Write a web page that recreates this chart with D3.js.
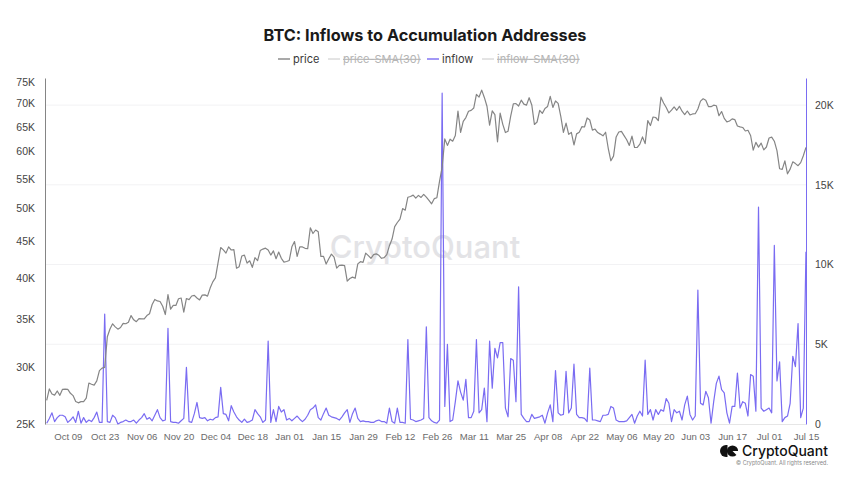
<!DOCTYPE html>
<html>
<head>
<meta charset="utf-8">
<script src="https://cdn.jsdelivr.net/npm/d3@7"></script>
<style>
  body { margin: 0; background: #fff; }
  svg { font-family: Inter, "Noto Sans", sans-serif; }
</style>
</head>
<body>
<div id="chart"></div>
<script>
// daily series, first value is 2023-10-01
var startDate = "2023-10-01";

// BTC price (thousand USD)
var price = [
  26.97,
  27.98, 27.53, 27.43, 27.80, 27.41, 27.95, 27.97, 27.94, 27.59, 27.39, 26.87, 26.76, 26.86, 26.86, 27.16, 28.52,
  28.41, 28.33, 28.72, 29.68, 29.92, 29.99, 33.09, 33.92, 34.50, 34.16, 33.91, 34.09, 34.54, 34.50, 34.67,
  35.42, 34.94, 34.73, 35.08, 35.05, 35.04, 35.42, 35.63, 36.70, 37.31, 37.13, 37.06, 36.50, 35.54, 37.88,
  36.16, 36.59, 36.59, 37.39, 37.48, 35.81, 37.42, 37.29, 37.72, 37.80, 37.48, 37.25, 37.83, 37.86, 37.71,
  38.69, 39.47, 39.98, 41.98, 44.08, 43.75, 43.29, 44.17, 43.73, 43.79, 41.24, 41.45, 42.89, 43.02, 41.93, 42.24,
  41.36, 42.66, 42.26, 43.65, 43.86, 43.99, 43.74, 43.02, 43.61, 42.52, 43.44, 42.58, 42.07, 42.14, 42.28,
  44.18, 44.94, 42.85, 44.18, 44.16, 43.97, 43.93, 46.97, 46.11, 46.63, 46.37, 42.85, 42.84, 41.80, 42.51, 43.15,
  42.74, 41.26, 41.62, 41.66, 41.58, 39.57, 39.90, 40.08, 39.93, 41.82, 42.12, 42.03, 43.30, 42.94, 42.58,
  43.08, 43.19, 42.99, 42.58, 42.66, 43.09, 44.34, 45.29, 47.13, 47.77, 48.29, 49.96, 49.70, 51.81, 51.94,
  52.16, 51.66, 52.12, 51.78, 52.28, 51.84, 51.30, 50.73, 51.57, 51.73, 54.52, 57.09, 62.50, 61.20,
  62.44, 62.03, 63.17, 68.33, 63.80, 66.11, 66.93, 68.30, 68.50, 69.02, 72.12, 71.48, 73.10, 71.40, 69.40, 65.30,
  68.39, 67.55, 61.91, 67.91, 65.49, 63.78, 64.06, 67.23, 69.96, 69.99, 69.45, 70.78, 69.89, 69.65, 71.33,
  69.70, 65.45, 65.98, 68.51, 67.84, 68.90, 69.36, 71.63, 69.14, 70.59, 70.06, 67.20, 63.82, 65.74, 63.42,
  63.81, 61.28, 63.51, 63.84, 64.99, 64.93, 66.84, 66.41, 64.29, 64.50, 63.77, 63.46, 63.12, 63.84, 60.64,
  58.25, 59.12, 62.89, 63.89, 64.03, 63.16, 62.33, 61.19, 63.05, 60.79, 60.79, 61.45, 62.90, 61.55, 66.27, 65.23,
  67.05, 66.94, 66.28, 71.45, 70.14, 69.12, 67.93, 68.53, 69.26, 68.51, 69.39, 68.30, 67.57, 68.35, 67.49,
  67.71, 67.75, 68.80, 70.56, 71.08, 70.76, 69.34, 69.31, 69.65, 69.51, 67.32, 68.24, 66.75, 66.01, 66.19,
  66.64, 66.49, 65.14, 64.96, 64.83, 64.10, 64.25, 63.18, 60.27, 61.80, 60.86, 61.65, 60.32, 60.89, 62.68,
  62.85, 62.03, 60.17, 56.78, 56.66, 58.23, 55.86, 56.71, 58.05, 57.72, 57.34, 57.90, 59.20, 60.80
];

// inflow to accumulation addresses (thousand BTC)
var inflow = [
  0.05, 0.35, 0.7, 0.15, 0.4, 0.55, 0.55, 0.45, 0.1, 0.25,
  0.45, 0.1, 0.8, 0.05, 0.4, 0.1, 0.25, 0.15, 0.4, 0.75,
  0.1, 0.1, 6.9, 0.15, 0.1, 0.55, 0.4, 0.0, 0.1, 0.15,
  0.25, 0.15, 0.15, 0.25, 0.05, 0.25, 0.4, 0.65, 0.3, 0.4,
  0.2, 0.55, 0.9, 0.4, 0.2, 0.25, 6.0, 0.15, 0.1, 0.1,
  0.05, 0.2, 0.35, 3.55, 0.15, 0.1, 0.65, 1.35, 0.4, 0.35,
  0.4, 0.2, 0.3, 0.25, 0.4, 0.45, 2.3, 0.65, 0.6, 0.2,
  1.15, 0.75, 0.45, 0.25, 0.1, 0.3, 0.1, 0.15, 0.25, 0.9,
  0.65, 0.45, 0.1, 0.25, 5.2, 0.1, 0.9, 0.15, 1.1, 0.75,
  0.9, 0.25, 0.35, 0.2, 0.35, 0.5, 0.3, 0.15, 0.3, 0.55,
  0.9, 1.0, 1.2, 0.4, 0.25, 0.65, 1.0, 0.55, 0.45, 0.4,
  0.35, 0.25, 0.45, 0.7, 0.9, 0.1, 0.65, 1.0, 0.35, 0.15,
  0.2, 0.15, 0.15, 0.1, 0.1, 0.2, 0.25, 0.15, 0.15, 0.05,
  1.0, 0.15, 0.05, 1.0, 0.1, 0.1, 0.05, 5.3, 0.3, 0.25,
  0.15, 0.2, 0.25, 0.35, 6.1, 0.4, 0.2, 0.1, 0.05, 0.25,
  20.75, 1.1, 5.0, 0.15, 0.25, 1.4, 2.7, 2.0, 1.5, 2.8,
  0.4, 0.4, 0.8, 5.3, 0.7, 0.9, 2.25, 0.15, 5.2, 2.25,
  4.75, 4.15, 5.1, 5.1, 1.0, 0.45, 4.1, 4.0, 1.4, 8.6,
  0.6, 0.35, 0.15, 0.15, 0.6, 0.35, 0.4, 0.45, 0.55, 0.05,
  0.7, 1.2, 0.15, 3.35, 0.7, 0.55, 0.6, 3.3, 0.7, 1.0,
  3.75, 0.6, 0.4, 0.4, 0.35, 0.15, 3.5, 0.25, 0.25, 0.2,
  0.15, 0.55, 0.55, 0.6, 1.1, 1.0, 0.25, 0.15, 0.15, 0.15,
  0.2, 0.4, 0.6, 0.05, 0.5, 0.8, 0.5, 4.0, 0.6, 0.9,
  0.25, 0.9, 0.6, 0.9, 0.8, 1.6, 1.3, 0.15, 0.9, 0.7,
  0.8, 0.25, 1.2, 1.75, 0.6, 0.25, 0.5, 8.4, 1.3, 1.2,
  2.05, 1.65, 0.05, 1.4, 2.55, 3.0, 2.15, 1.95, 0.7, 0.05,
  1.1, 1.1, 3.2, 1.0, 1.4, 1.3, 0.5, 3.1, 3.0, 0.8,
  13.6, 1.0, 0.8, 0.9, 1.0, 0.7, 11.2, 2.7, 3.9, 0.15,
  0.4, 0.5, 1.3, 4.25, 3.6, 6.3, 0.4, 1.0, 10.8
];

var priceTicks = [25, 30, 35, 40, 45, 50, 55, 60, 65, 70, 75];
var inflowTicks = [0, 5, 10, 15, 20];
var dateTicks = ["2023-10-09", "2023-10-23", "2023-11-06", "2023-11-20", "2023-12-04", "2023-12-18",
  "2024-01-01", "2024-01-15", "2024-01-29", "2024-02-12", "2024-02-26", "2024-03-11", "2024-03-25",
  "2024-04-08", "2024-04-22", "2024-05-06", "2024-05-20", "2024-06-03", "2024-06-17", "2024-07-01", "2024-07-15"];

var legendItems = [
  { name: "price", on: true, color: "#858585" },
  { name: "price-SMA(30)", on: false, color: "#c8c8c8" },
  { name: "inflow", on: true, color: "#7a6cf2" },
  { name: "inflow-SMA(30)", on: false, color: "#c8c8c8" }
];

var width = 850, height = 478;
// plot box (note: "top" is a reserved window property, so use own names)
var plotL = 45, plotR = 806, plotT = 78, plotB = 424;
var priceColor = "#858585", inflowColor = "#7a6cf2";

var parse = d3.utcParse("%Y-%m-%d");
var day0 = parse(startDate);
var data = price.map(function(p, i) {
  return { date: d3.utcDay.offset(day0, i), price: p, inflow: inflow[i] };
});

var svg = d3.select("#chart").append("svg")
  .attr("width", width)
  .attr("height", height);

var x = d3.scaleUtc()
  .domain([day0, d3.utcDay.offset(day0, price.length)])
  .range([plotL + 1.7, plotR + 2.6]);
var yPrice = d3.scaleLog().domain([25, 76]).range([plotB, plotT]);
var yInflow = d3.scaleLinear().domain([0, 21.7]).range([plotB, plotT]);

// light grid from right axis
svg.append("g")
  .selectAll("line")
  .data(inflowTicks.slice(1))
  .enter().append("line")
  .attr("x1", plotL).attr("x2", plotR)
  .attr("y1", function(d) { return yInflow(d); })
  .attr("y2", function(d) { return yInflow(d); })
  .attr("stroke", "#f2f2f4");

// watermark
svg.append("text")
  .attr("x", 425).attr("y", 258)
  .attr("text-anchor", "middle")
  .attr("font-size", 31)
  .attr("font-weight", 500)
  .attr("fill", "#e3e3e6")
  .text("CryptoQuant");

// x axis
var xAxis = d3.axisBottom(x)
  .tickValues(dateTicks.map(parse))
  .tickFormat(d3.utcFormat("%b %d"))
  .tickSize(0)
  .tickPadding(9);
var gx = svg.append("g")
  .attr("transform", "translate(0," + plotB + ")")
  .call(xAxis);
gx.select(".domain").attr("stroke", "#e6e6e6").attr("d", "M" + plotL + ",0.5H" + plotR);
gx.selectAll("text").attr("fill", "#6b6b6b").attr("font-size", 9.6);

// left axis (price, log)
var gl = svg.append("g")
  .attr("transform", "translate(" + plotL + ",0)")
  .call(d3.axisLeft(yPrice).tickValues(priceTicks).tickFormat(function(d) { return d + "K"; }).tickSize(0).tickPadding(10));
gl.select(".domain").attr("stroke", priceColor);
gl.selectAll("text").attr("fill", "#444").attr("font-size", 10.5);

// right axis (inflow)
var gr = svg.append("g")
  .attr("transform", "translate(" + plotR + ",0)")
  .call(d3.axisRight(yInflow).tickValues(inflowTicks).tickFormat(function(d) { return d === 0 ? "0" : d + "K"; }).tickSize(0).tickPadding(9));
gr.select(".domain").attr("stroke", inflowColor);
gr.selectAll("text").attr("fill", "#444").attr("font-size", 10.5);

// lines
var priceLine = d3.line()
  .x(function(d) { return x(d.date); })
  .y(function(d) { return yPrice(d.price); });
var inflowLine = d3.line()
  .x(function(d) { return x(d.date); })
  .y(function(d) { return yInflow(d.inflow); });

svg.append("path")
  .datum(data)
  .attr("d", inflowLine)
  .attr("fill", "none")
  .attr("stroke", inflowColor)
  .attr("stroke-width", 1.2)
  .attr("stroke-linejoin", "round");

svg.append("path")
  .datum(data)
  .attr("d", priceLine)
  .attr("fill", "none")
  .attr("stroke", priceColor)
  .attr("stroke-width", 1.2)
  .attr("stroke-linejoin", "round");

// title
svg.append("text")
  .attr("x", 425).attr("y", 41)
  .attr("text-anchor", "middle")
  .attr("font-size", 16.3)
  .attr("font-weight", 700)
  .attr("fill", "#1a1a1a")
  .text("BTC: Inflows to Accumulation Addresses");

// legend
var legendX = [278, 328, 427, 482];
var legend = svg.append("g").selectAll("g")
  .data(legendItems)
  .enter().append("g")
  .attr("transform", function(d, i) { return "translate(" + legendX[i] + ",59)"; });
legend.append("line")
  .attr("x1", 0).attr("x2", 12)
  .attr("stroke", function(d) { return d.color; })
  .attr("stroke-width", function(d) { return d.on ? 1.4 : 1; });
legend.append("text")
  .attr("x", 15).attr("y", 4)
  .attr("font-size", 11)
  .attr("fill", function(d) { return d.on ? "#3a3a3a" : "#b5b5b5"; })
  .attr("text-decoration", function(d) { return d.on ? null : "line-through"; })
  .text(function(d) { return d.name; });

// logo bottom right
var logo = svg.append("g").attr("transform", "translate(720,451)");
logo.append("path")
  .attr("d", "M6,-6 A6,6 0 0 0 6,6 L7.5,6 L7.5,-6 Z")
  .attr("fill", "#111");
logo.append("circle")
  .attr("cx", 12.5).attr("cy", 0).attr("r", 5.6)
  .attr("fill", "#111");
logo.append("path")
  .attr("d", "M12.5,0 L18.5,0 L18.5,6 Z")
  .attr("fill", "#fff");
svg.append("text")
  .attr("x", 828).attr("y", 456)
  .attr("text-anchor", "end")
  .attr("font-size", 14)
  .attr("font-weight", 500)
  .attr("fill", "#111")
  .text("CryptoQuant");
svg.append("text")
  .attr("x", 828).attr("y", 465)
  .attr("text-anchor", "end")
  .attr("font-size", 5.5)
  .attr("fill", "#888")
  .text("© CryptoQuant. All rights reserved.");
</script>
</body>
</html>
